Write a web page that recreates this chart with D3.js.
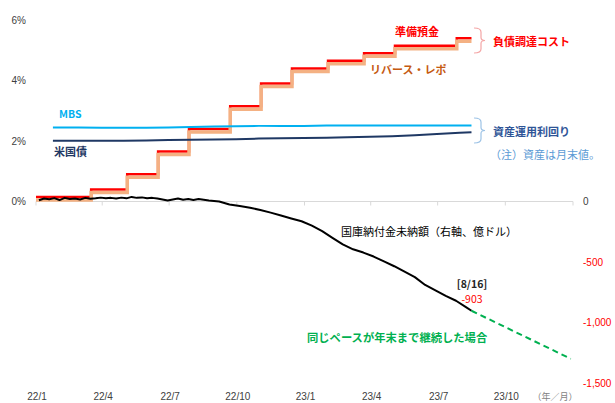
<!DOCTYPE html>
<html><head><meta charset="utf-8">
<script src="https://cdn.jsdelivr.net/npm/d3@7"></script>
<style>
html,body{margin:0;padding:0;background:#fff;}
text{font-family:"Noto Sans CJK JP","Noto Sans",sans-serif;}
.num{font-family:"Liberation Sans","Noto Sans",sans-serif;}
</style></head>
<body>
<svg id="c" width="615" height="403"></svg>
<script>
// ---------- data ----------
const xTickDates = ["2022-01-01","2022-04-01","2022-07-01","2022-10-01","2023-01-01","2023-04-01","2023-07-01","2023-10-01"];
const xTickLabels = ["22/1","22/4","22/7","22/10","23/1","23/4","23/7","23/10"];
const leftTicks = [0,2,4,6];
const leftTickLabels = ["0%","2%","4%","6%"];
const rightTicks = [0,-500,-1000,-1500];
const rightTickLabels = ["0","-500","-1,000","-1,500"];

// policy rate steps (change dates), last date = 8/16
const stepDates = ["2022-01-01","2022-03-17","2022-05-05","2022-06-16","2022-07-28","2022-09-22","2022-11-03","2022-12-15","2023-02-02","2023-03-23","2023-05-04","2023-07-27","2023-08-16"];
const reserveRate = [0.15,0.40,0.90,1.65,2.40,3.15,3.90,4.40,4.65,4.90,5.15,5.40,5.40];
const rrpRate     = [0.05,0.30,0.80,1.55,2.30,3.05,3.80,4.30,4.55,4.80,5.05,5.30,5.30];

// asset yields (month-end values)
const assetDates = ["2022-01-24","2022-02-28","2022-03-31","2022-04-30","2022-05-31","2022-06-30","2022-07-31","2022-08-31","2022-09-30","2022-10-31","2022-11-30","2022-12-31","2023-01-31","2023-02-28","2023-03-31","2023-04-30","2023-05-31","2023-06-30","2023-07-31","2023-08-16"];
const mbsYield  = [2.45,2.45,2.44,2.44,2.44,2.45,2.46,2.48,2.49,2.50,2.50,2.50,2.51,2.51,2.51,2.51,2.51,2.51,2.51,2.51];
const tsyYield  = [2.01,2.01,2.01,2.01,2.02,2.03,2.04,2.05,2.06,2.08,2.09,2.10,2.11,2.12,2.14,2.16,2.19,2.23,2.27,2.29];

// deferred asset (億ドル, right axis)
const defDates = ["2022-01-05","2022-01-12","2022-01-19","2022-01-26","2022-02-02","2022-02-09","2022-02-16","2022-02-23","2022-03-02","2022-03-09","2022-03-16","2022-03-23","2022-03-30","2022-04-06","2022-04-13","2022-04-20","2022-04-27","2022-05-04","2022-05-11","2022-05-18","2022-05-25","2022-06-01","2022-06-08","2022-06-15","2022-06-22","2022-06-29","2022-07-06","2022-07-13","2022-07-20","2022-07-27","2022-08-03","2022-08-10","2022-08-17","2022-08-24","2022-08-31","2022-09-07","2022-09-21","2022-10-05","2022-10-19","2022-11-02","2022-11-16","2022-11-30","2022-12-14","2022-12-28","2023-01-11","2023-01-25","2023-02-08","2023-02-22","2023-03-08","2023-03-22","2023-04-05","2023-04-19","2023-05-03","2023-05-17","2023-05-31","2023-06-14","2023-06-28","2023-07-12","2023-07-26","2023-08-09","2023-08-16"];
const defValues = [10,25,18,28,12,30,20,24,16,30,22,26,32,26,30,24,32,26,38,30,34,26,30,24,16,8,16,24,14,20,12,20,14,8,4,0,-25,-38,-52,-70,-92,-115,-140,-163,-200,-245,-300,-355,-395,-422,-455,-495,-535,-580,-625,-690,-735,-780,-820,-875,-903];

const projDates = ["2023-08-16","2023-12-29"];
const projValues = [-903,-1300];

// ---------- chart ----------
const svg = d3.select("#c");
const parse = d3.utcParse("%Y-%m-%d");
const x = d3.scaleUtc().domain([parse("2022-01-01"), parse("2024-01-01")]).range([36, 573]);
const yL = d3.scaleLinear().domain([-6, 6]).range([383, 20]);
const yR = d3.scaleLinear().domain([-1500, 1500]).range([383, 20]);

// left tick labels
svg.append("g").selectAll("text").data(leftTicks).join("text")
  .attr("class","num").attr("x",26).attr("y",d=>yL(d)+3.5)
  .attr("text-anchor","end").attr("font-size",10).attr("fill","#404040")
  .text((d,i)=>leftTickLabels[i]);

// right tick labels
svg.append("g").selectAll("text").data(rightTicks).join("text")
  .attr("class","num").attr("x",583).attr("y",d=>yR(d)+3.5)
  .attr("font-size",10).attr("fill",d=>d===0?"#404040":"#ff0000")
  .text((d,i)=>rightTickLabels[i]);

// zero line & ticks
svg.append("line").attr("x1",x.range()[0]).attr("x2",x.range()[1])
  .attr("y1",yL(0)).attr("y2",yL(0)).attr("stroke","#d9d9d9").attr("stroke-width",1);
const tickDates = xTickDates.map(parse).concat([parse("2024-01-01")]);
svg.append("g").selectAll("line").data(tickDates).join("line")
  .attr("x1",d=>x(d)).attr("x2",d=>x(d)).attr("y1",yL(0)).attr("y2",yL(0)+4)
  .attr("stroke","#d9d9d9");

// x labels
svg.append("g").selectAll("text").data(xTickDates).join("text")
  .attr("class","num").attr("x",d=>x(parse(d))+1).attr("y",400)
  .attr("text-anchor","middle").attr("font-size",10).attr("fill","#404040")
  .text((d,i)=>xTickLabels[i]);
svg.append("text").attr("x",555).attr("y",400).attr("text-anchor","middle")
  .attr("font-size",9).attr("fill","#7f7f7f").text("（年／月）");

// lines
const lineL = (dates, vals, curve) => d3.line().x((d,i)=>x(parse(dates[i]))).y(d=>yL(d)).curve(curve||d3.curveLinear)(vals);
const lineR = (dates, vals) => d3.line().x((d,i)=>x(parse(dates[i]))).y(d=>yR(d))(vals);

svg.append("path").attr("d",lineL(stepDates,reserveRate,d3.curveStepAfter))
  .attr("fill","none").attr("stroke","#ff0000").attr("stroke-width",2.5);
svg.append("path").attr("d",lineL(stepDates,rrpRate,d3.curveStepAfter))
  .attr("fill","none").attr("stroke","#f4b183").attr("stroke-width",3.5);

svg.append("path").attr("d",lineL(assetDates,mbsYield))
  .attr("fill","none").attr("stroke","#00b0f0").attr("stroke-width",2);
svg.append("path").attr("d",lineL(assetDates,tsyYield))
  .attr("fill","none").attr("stroke","#1f3864").attr("stroke-width",2);

svg.append("path").attr("d",lineR(defDates,defValues))
  .attr("fill","none").attr("stroke","#000").attr("stroke-width",2).attr("stroke-linejoin","round");
svg.append("path").attr("d",lineR(projDates,projValues))
  .attr("fill","none").attr("stroke","#00b050").attr("stroke-width",2).attr("stroke-dasharray","6,4");

// brackets
function bracket(x0, y0, y1, color){
  const ym = (y0+y1)/2, xb = x0+7;
  const p = `M${x0},${y0} Q${xb},${y0} ${xb},${y0+4} L${xb},${ym-3} Q${xb},${ym} ${xb+4},${ym} Q${xb},${ym} ${xb},${ym+3} L${xb},${y1-4} Q${xb},${y1} ${x0},${y1}`;
  svg.append("path").attr("d",p).attr("fill","none").attr("stroke",color).attr("stroke-width",1.2);
}
bracket(474, 28, 53, "#f4a6a6");
bracket(474, 118, 143, "#9dc3e6");

// labels
const lab = (t,xp,yp,c,opt={}) => svg.append("text").attr("x",xp).attr("y",yp)
  .attr("font-size",opt.size||11).attr("font-weight",opt.w||"bold").attr("fill",c)
  .attr("text-anchor",opt.anchor||"start").text(t);
lab("準備預金",395,36,"#ff0000");
lab("負債調達コスト",493,46,"#ff0000");
lab("リバース・レポ",370,74,"#c55a11");
lab("資産運用利回り",493,136,"#2f5597");
lab("（注）資産は月末値。",490,159,"#5b9bd5",{w:"normal"});
lab("MBS",59,118,"#00b0f0",{size:10.5});
lab("米国債",54,156,"#1f3864");
lab("国庫納付金未納額（右軸、億ドル）",341,236,"#000",{w:"normal"});
lab("[8/16]",472,288,"#262626",{anchor:"middle",size:10.5});
lab("-903",472,303,"#ff0000",{anchor:"middle",w:"normal",size:10.5});
lab("同じペースが年末まで継続した場合",307,342,"#00b050",{size:11.3});
</script>
</body></html>
